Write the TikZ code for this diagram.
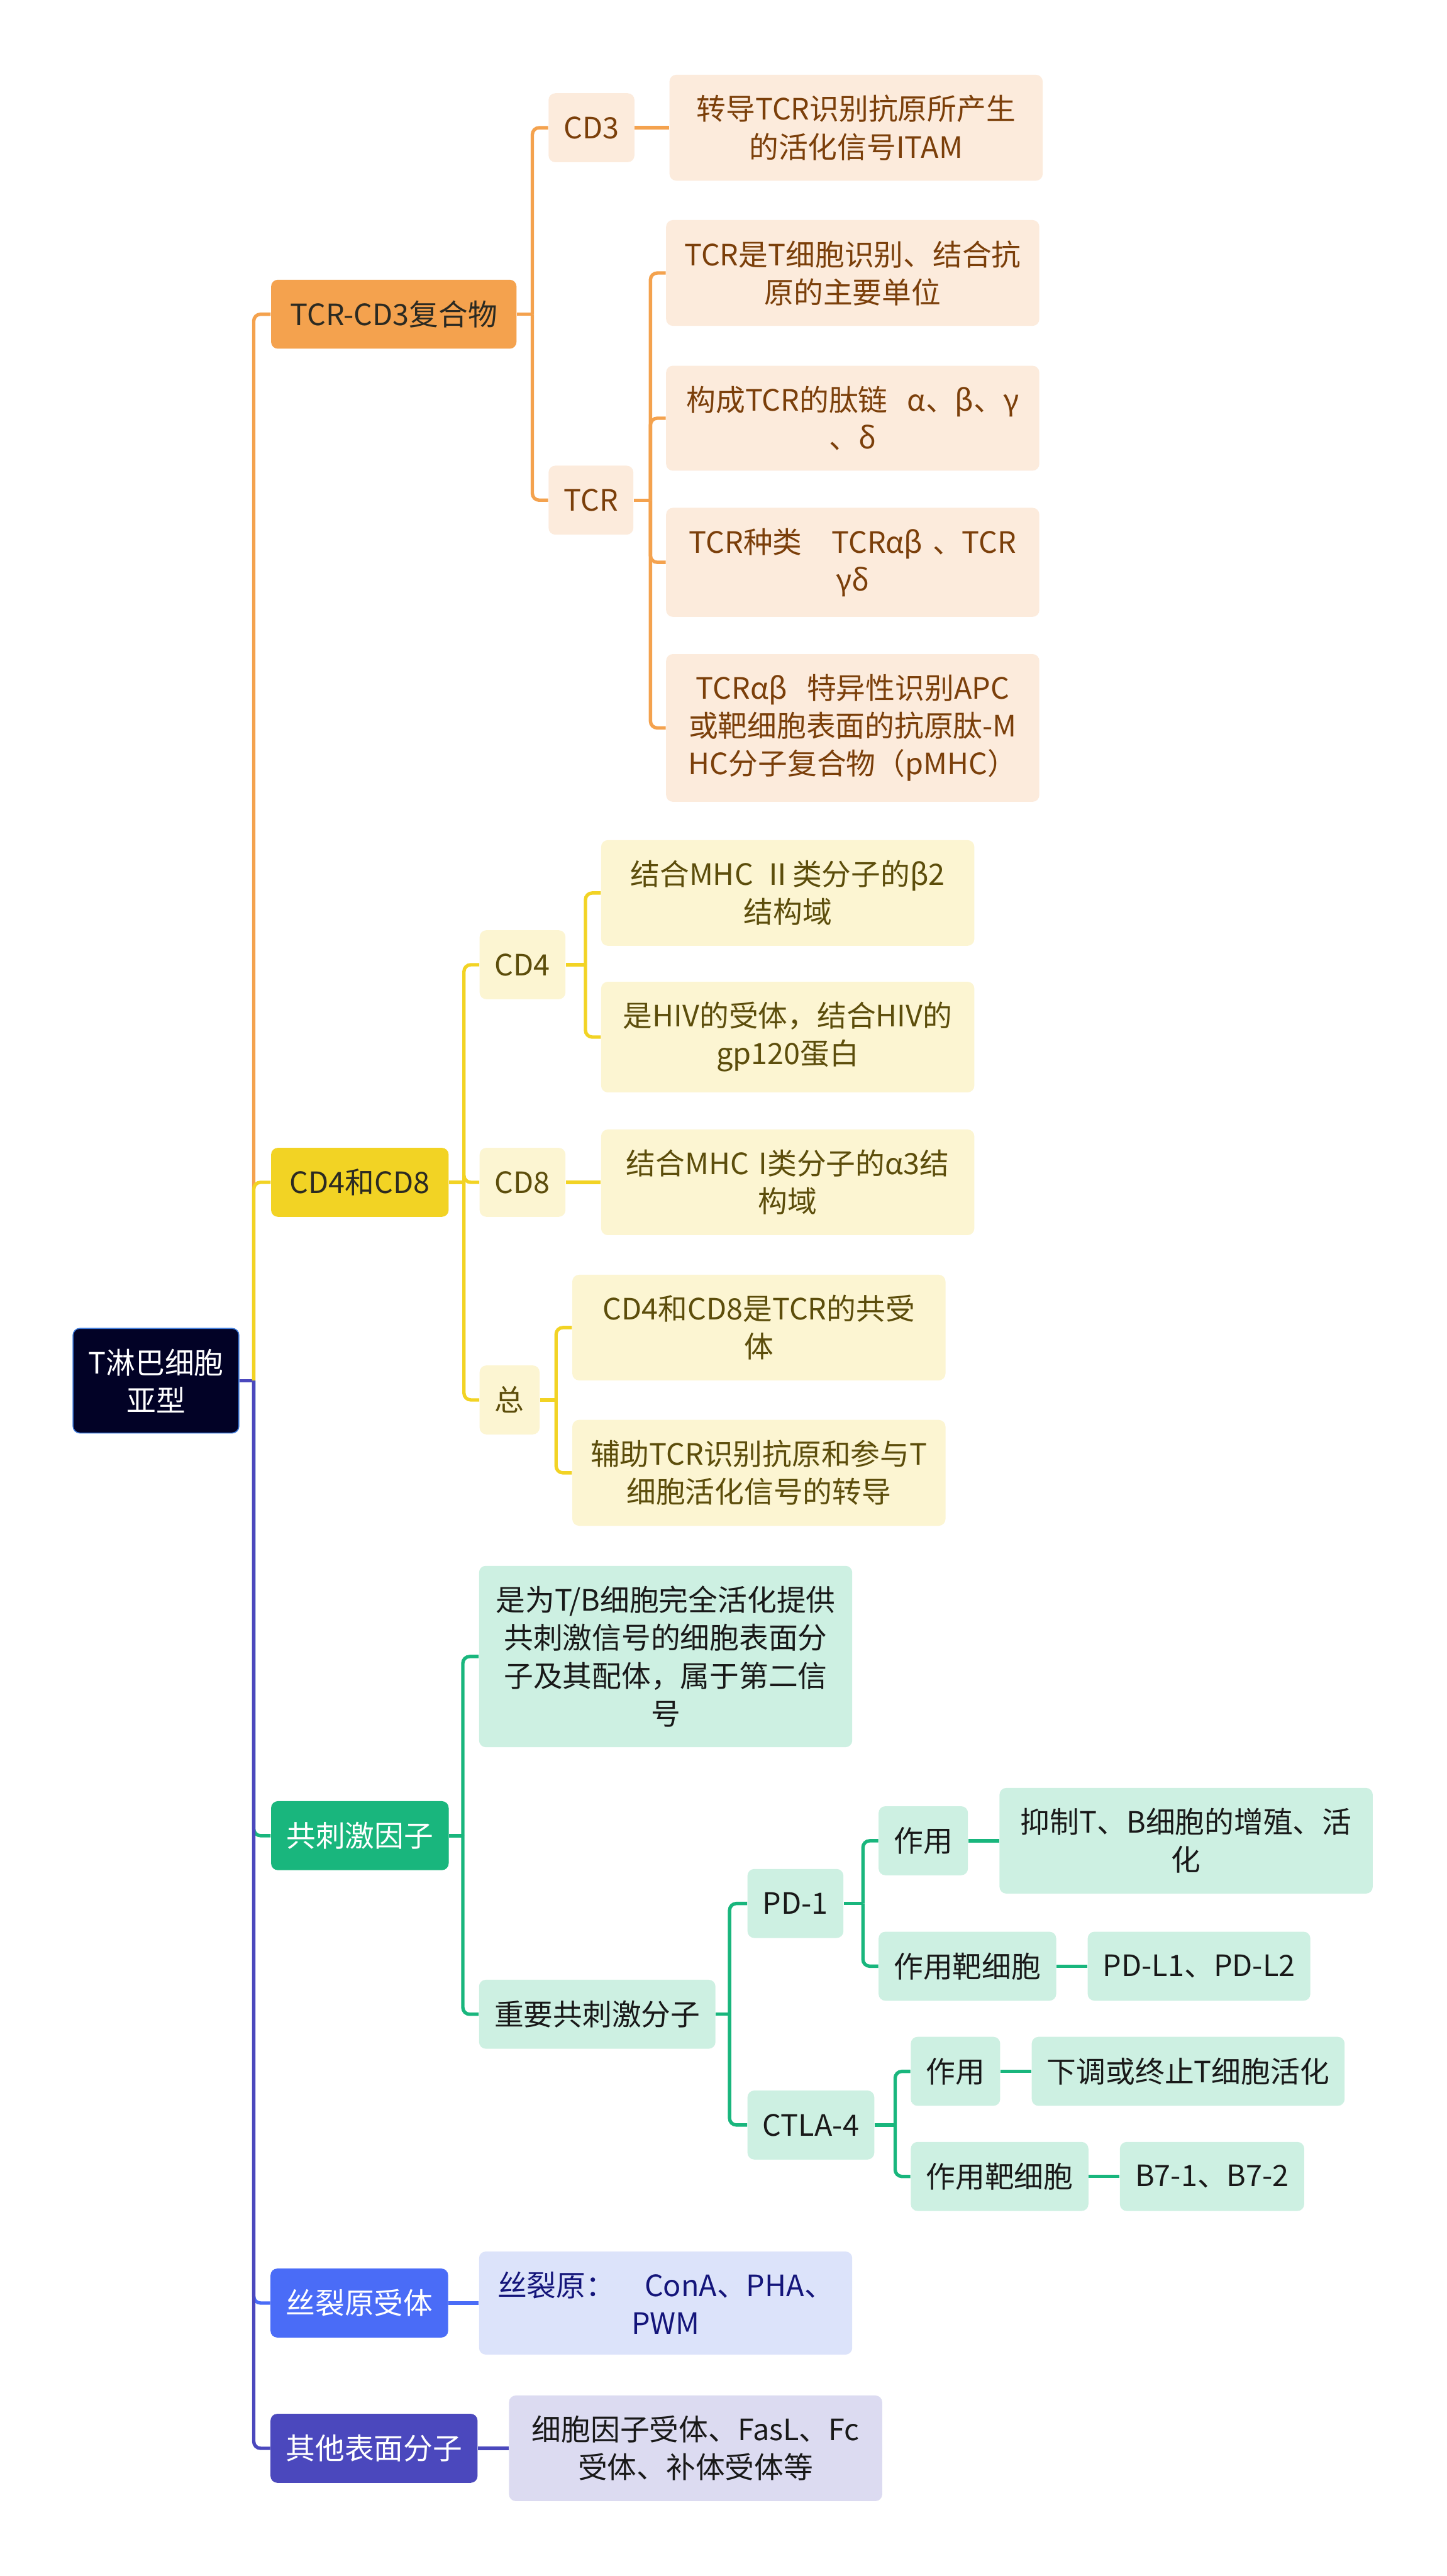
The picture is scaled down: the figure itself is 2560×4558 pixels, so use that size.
\documentclass[tikz,border=0pt]{standalone}
\usepackage{fontspec}
\setmainfont{Noto Sans CJK SC}
\usetikzlibrary{positioning}
\definecolor{cRoot}{HTML}{020226}
\definecolor{cRootLine}{HTML}{3C78D8}
\definecolor{cOrange}{HTML}{F4A24E}
\definecolor{cOrangeL}{HTML}{FCEBDC}
\definecolor{cOrangeT}{HTML}{7B3F0A}
\definecolor{cYellow}{HTML}{F2D324}
\definecolor{cYellowL}{HTML}{FCF5D2}
\definecolor{cYellowT}{HTML}{5C4D0B}
\definecolor{cGreen}{HTML}{19B67D}
\definecolor{cGreenL}{HTML}{CDF0E2}
\definecolor{cBlue}{HTML}{4A6CF7}
\definecolor{cBlueL}{HTML}{DCE3FA}
\definecolor{cBlueT}{HTML}{14157A}
\definecolor{cIndigo}{HTML}{4B48BD}
\definecolor{cIndigoL}{HTML}{DCDBF1}
\definecolor{cDark}{HTML}{2B2A22}

\begin{document}
\begin{tikzpicture}[x=0.01cm,y=-0.01cm,font=\fontsize{14.8pt}{19pt}\selectfont,
  base/.style={rounded corners=0.12cm,inner xsep=0.27cm,inner ysep=0.36cm,minimum height=1.22cm,align=center,anchor=west},
  mainbox/.style 2 args={base,fill=#1,text=#2,minimum width=3.14cm},
  orangeset/.style={base,fill=cOrangeL,text=cOrangeT},
  yellowset/.style={base,fill=cYellowL,text=cYellowT},
  greenset/.style={base,fill=cGreenL,text=black!90},
  wide/.style={text width=6.06cm},
  link/.style={line width=0.06cm,draw=#1,rounded corners=0.12cm}]
  \fill[white] (0,0) rectangle (2560,4558);
  \useasboundingbox (0,0) rectangle (2560,4558);
  % root
  \node[base,anchor=center,fill=cRoot,draw=cRootLine,line width=0.5pt,text=white,minimum width=2.9cm] (root) at (276,2443) {T淋巴细胞\\亚型};
  % first level
  \node[mainbox={cOrange}{cDark},minimum width=4.34cm] (a) at (479,556) {TCR-CD3复合物};
  \node[mainbox={cYellow}{cDark}] (b) at (479,2092) {CD4和CD8};
  \node[mainbox={cGreen}{white}] (c) at (479,3248) {共刺激因子};
  \node[mainbox={cBlue}{white}] (d) at (478,4075) {丝裂原受体};
  \node[mainbox={cIndigo}{white}] (e) at (478,4332) {其他表面分子};
  % TCR-CD3
  \node[orangeset] (cd3) at (970,226) {CD3};
  \node[orangeset,wide] (cd3a) at (1184,226) {转导TCR识别抗原所产生\\的活化信号ITAM};
  \node[orangeset] (tcr) at (970,885) {TCR};
  \node[orangeset,wide] (tcr1) at (1178,483) {TCR是T细胞识别、结合抗\\原的主要单位};
  \node[orangeset,wide] (tcr2) at (1178,740) {构成TCR的肽链\ \ α、β、γ\\、δ};
  \node[orangeset,wide] (tcr3) at (1178,995) {TCR种类\ \ \ TCRαβ\ 、TCR\\γδ};
  \node[orangeset,wide] (tcr4) at (1178,1288) {TCRαβ\ \ 特异性识别APC\\或靶细胞表面的抗原肽-M\\HC分子复合物（pMHC）};
  % CD4 / CD8
  \node[yellowset] (cd4) at (848,1707) {CD4};
  \node[yellowset,wide] (cd4a) at (1063,1580) {结合MHC Ⅱ类分子的β2\\结构域};
  \node[yellowset,wide] (cd4b) at (1063,1835) {是HIV的受体，结合HIV的\\gp120蛋白};
  \node[yellowset] (cd8) at (848,2092) {CD8};
  \node[yellowset,wide] (cd8a) at (1063,2092) {结合MHC I类分子的α3结\\构域};
  \node[yellowset] (sum) at (848,2477) {总};
  \node[yellowset,wide] (suma) at (1012,2349) {CD4和CD8是TCR的共受\\体};
  \node[yellowset,wide] (sumb) at (1012,2606) {辅助TCR识别抗原和参与T\\细胞活化信号的转导};
  % co-stimulation
  \node[greenset,wide] (ca) at (847,2931) {是为T/B细胞完全活化提供\\共刺激信号的细胞表面分\\子及其配体，属于第二信\\号};
  \node[greenset] (key) at (847,3564) {重要共刺激分子};
  \node[greenset] (pd) at (1322,3368) {PD-1};
  \node[greenset] (pdf) at (1554,3257) {作用};
  \node[greenset,wide] (pdfa) at (1768,3257) {抑制T、B细胞的增殖、活\\化};
  \node[greenset] (pdt) at (1554,3479) {作用靶细胞};
  \node[greenset] (pdta) at (1924,3479) {PD-L1、PD-L2};
  \node[greenset] (ct) at (1322,3760) {CTLA-4};
  \node[greenset] (ctf) at (1611,3665) {作用};
  \node[greenset] (ctfa) at (1825,3665) {下调或终止T细胞活化};
  \node[greenset] (ctt) at (1611,3851) {作用靶细胞};
  \node[greenset] (ctta) at (1981,3851) {B7-1、B7-2};
  % mitogen / others
  \node[base,wide,fill=cBlueL,text=cBlueT] (da) at (847,4075) {丝裂原：\ \ \ ConA、PHA、\\PWM};
  \node[base,wide,fill=cIndigoL,text=black!90] (ea) at (900,4332) {细胞因子受体、FasL、Fc\\受体、补体受体等};
  % connectors
  \coordinate (tS) at (449,2443);
  \draw[link=cIndigo] (root.east) -- (tS);
  \foreach \n/\c in {a/cOrange,b/cYellow,c/cGreen,d/cBlue,e/cIndigo}{\draw[link=\c] (tS) |- (\n.west);}
  \foreach \p/\x/\c/\kids in {a/942/cOrange/{cd3,tcr},tcr/1151/cOrange/{tcr1,tcr2,tcr3,tcr4},
      b/821/cYellow/{cd4,cd8,sum},cd4/1036/cYellow/{cd4a,cd4b},sum/984/cYellow/{suma,sumb},
      c/819/cGreen/{ca,key},key/1291/cGreen/{pd,ct},pd/1527/cGreen/{pdf,pdt},ct/1584/cGreen/{ctf,ctt}}{
    \coordinate (\p S) at (\p.east -| \x,0);
    \draw[link=\c] (\p.east) -- (\p S);
    \foreach \k in \kids {\draw[link=\c] (\p S) |- (\k.west);}}
  \foreach \p/\k/\c in {cd3/cd3a/cOrange,cd8/cd8a/cYellow,pdf/pdfa/cGreen,pdt/pdta/cGreen,
      ctf/ctfa/cGreen,ctt/ctta/cGreen,d/da/cBlue,e/ea/cIndigo}{\draw[link=\c] (\p.east) -- (\k.west);}
\end{tikzpicture}
\end{document}
